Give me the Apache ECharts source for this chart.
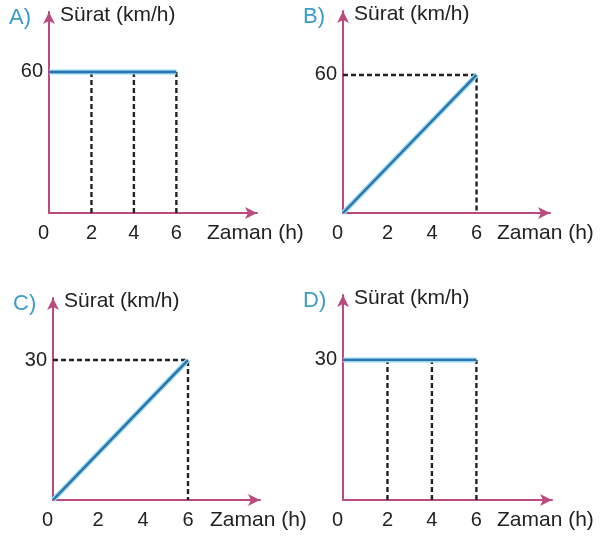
<!DOCTYPE html>
<html>
<head>
<meta charset="utf-8">
<title>Sürat - Zaman grafikleri</title>
<script src="https://cdn.jsdelivr.net/npm/echarts@6/dist/echarts.min.js"></script>
<style>
    html, body { margin: 0; padding: 0; background: #fff; }
    #chart { width: 600px; height: 540px; }
</style>
</head>
<body>
<div id="chart"></div>
<script type="text/javascript">
// data
var panelNames = ['A)', 'B)', 'C)', 'D)'];
var times = [0, 2, 4, 6];
var xTicks = [0, 2, 4, 6];
var speedA = [60, 60, 60, 60];
var speedB = [0, 20, 40, 60];
var speedC = [0, 10, 20, 30];
var speedD = [30, 30, 30, 30];
var yTicksA = [60];
var yTicksB = [60];
var yTicksC = [30];
var yTicksD = [30];
var xName = 'Zaman (h)';
var yName = 'Sürat (km/h)';

var speeds = [speedA, speedB, speedC, speedD];
var yTicks = [yTicksA, yTicksB, yTicksC, yTicksD];
// constant speed panels get vertical guides at every tick, rising ones a corner guide
var guideKind = ['vertical', 'corner', 'corner', 'vertical'];

// layout of the four small plots (px)
var grids = [
    {left: 49, top: 12, width: 208, height: 201, xMax: 9.8, yMax: 85.5, nameGap: -50},
    {left: 343, top: 11, width: 207, height: 202, xMax: 9.3, yMax: 87.8, nameGap: -53},
    {left: 53, top: 298, width: 207, height: 202, xMax: 9.2, yMax: 43.3, nameGap: -50},
    {left: 343, top: 295, width: 209, height: 205, xMax: 9.4, yMax: 43.9, nameGap: -55}
];

var axisColor = '#bb4a7e';
var textColor = '#222';
var font = '"Liberation Sans", Arial, sans-serif';

var chart = echarts.init(document.getElementById('chart'), null, {renderer: 'canvas'});

var option = {
    backgroundColor: '#fff',
    animation: false,
    title: [],
    grid: [],
    xAxis: [],
    yAxis: [],
    series: []
};

grids.forEach(function (g, i) {
    option.title.push({
        text: panelNames[i],
        left: g.left - 45,
        top: g.top - 10,
        textStyle: {color: '#3b9cc6', fontSize: 22, fontWeight: 'normal', fontFamily: font}
    });
    option.grid.push({left: g.left, top: g.top, width: g.width, height: g.height});
    option.xAxis.push({
        type: 'value', gridIndex: i, min: 0, max: g.xMax,
        name: xName, nameLocation: 'end', nameGap: g.nameGap,
        nameTextStyle: {color: textColor, fontSize: 21, fontFamily: font, verticalAlign: 'top', align: 'left', padding: [10, 0, 0, 0]},
        splitLine: {show: false},
        axisTick: {show: false},
        axisLine: {show: true, lineStyle: {color: axisColor, width: 2}, symbol: ['none', 'arrow'], symbolSize: [9, 12]},
        axisLabel: {customValues: xTicks, color: textColor, fontSize: 20, fontFamily: font, margin: 10, alignMinLabel: 'right'}
    });
    option.yAxis.push({
        type: 'value', gridIndex: i, min: 0, max: g.yMax,
        name: yName, nameLocation: 'end', nameGap: -3,
        nameTextStyle: {color: textColor, fontSize: 21, fontFamily: font, align: 'left', verticalAlign: 'middle', padding: [0, 0, 0, 11]},
        splitLine: {show: false},
        axisTick: {show: false},
        axisLine: {show: true, lineStyle: {color: axisColor, width: 2}, symbol: ['none', 'arrow'], symbolSize: [9, 12]},
        axisLabel: {customValues: yTicks[i], color: textColor, fontSize: 20, fontFamily: font, margin: 6}
    });

    var sp = speeds[i];
    var last = times.length - 1;
    var guides = [];
    if (guideKind[i] === 'vertical') {
        times.forEach(function (t, k) {
            if (t > 0) guides.push([[t, 0], [t, sp[k]]]);
        });
    } else {
        guides.push([[0, sp[last]], [times[last], sp[last]], [times[last], 0]]);
    }
    guides.forEach(function (pts) {
        option.series.push({
            type: 'line', xAxisIndex: i, yAxisIndex: i, data: pts,
            symbol: 'none', silent: true, z: 1,
            lineStyle: {color: '#222', width: 2.4, type: [5, 3]}
        });
    });

    var pts = times.map(function (t, k) { return [t, sp[k]]; });
    // light halo under the main line, like the print
    option.series.push({
        type: 'line', xAxisIndex: i, yAxisIndex: i, data: pts,
        symbol: 'none', silent: true, z: 2,
        lineStyle: {color: '#96d6ef', width: 5}
    });
    option.series.push({
        type: 'line', xAxisIndex: i, yAxisIndex: i, data: pts,
        symbol: 'none', silent: true, z: 3,
        lineStyle: {color: '#2a74ab', width: 2.4}
    });
});

chart.setOption(option);
</script>
</body>
</html>
